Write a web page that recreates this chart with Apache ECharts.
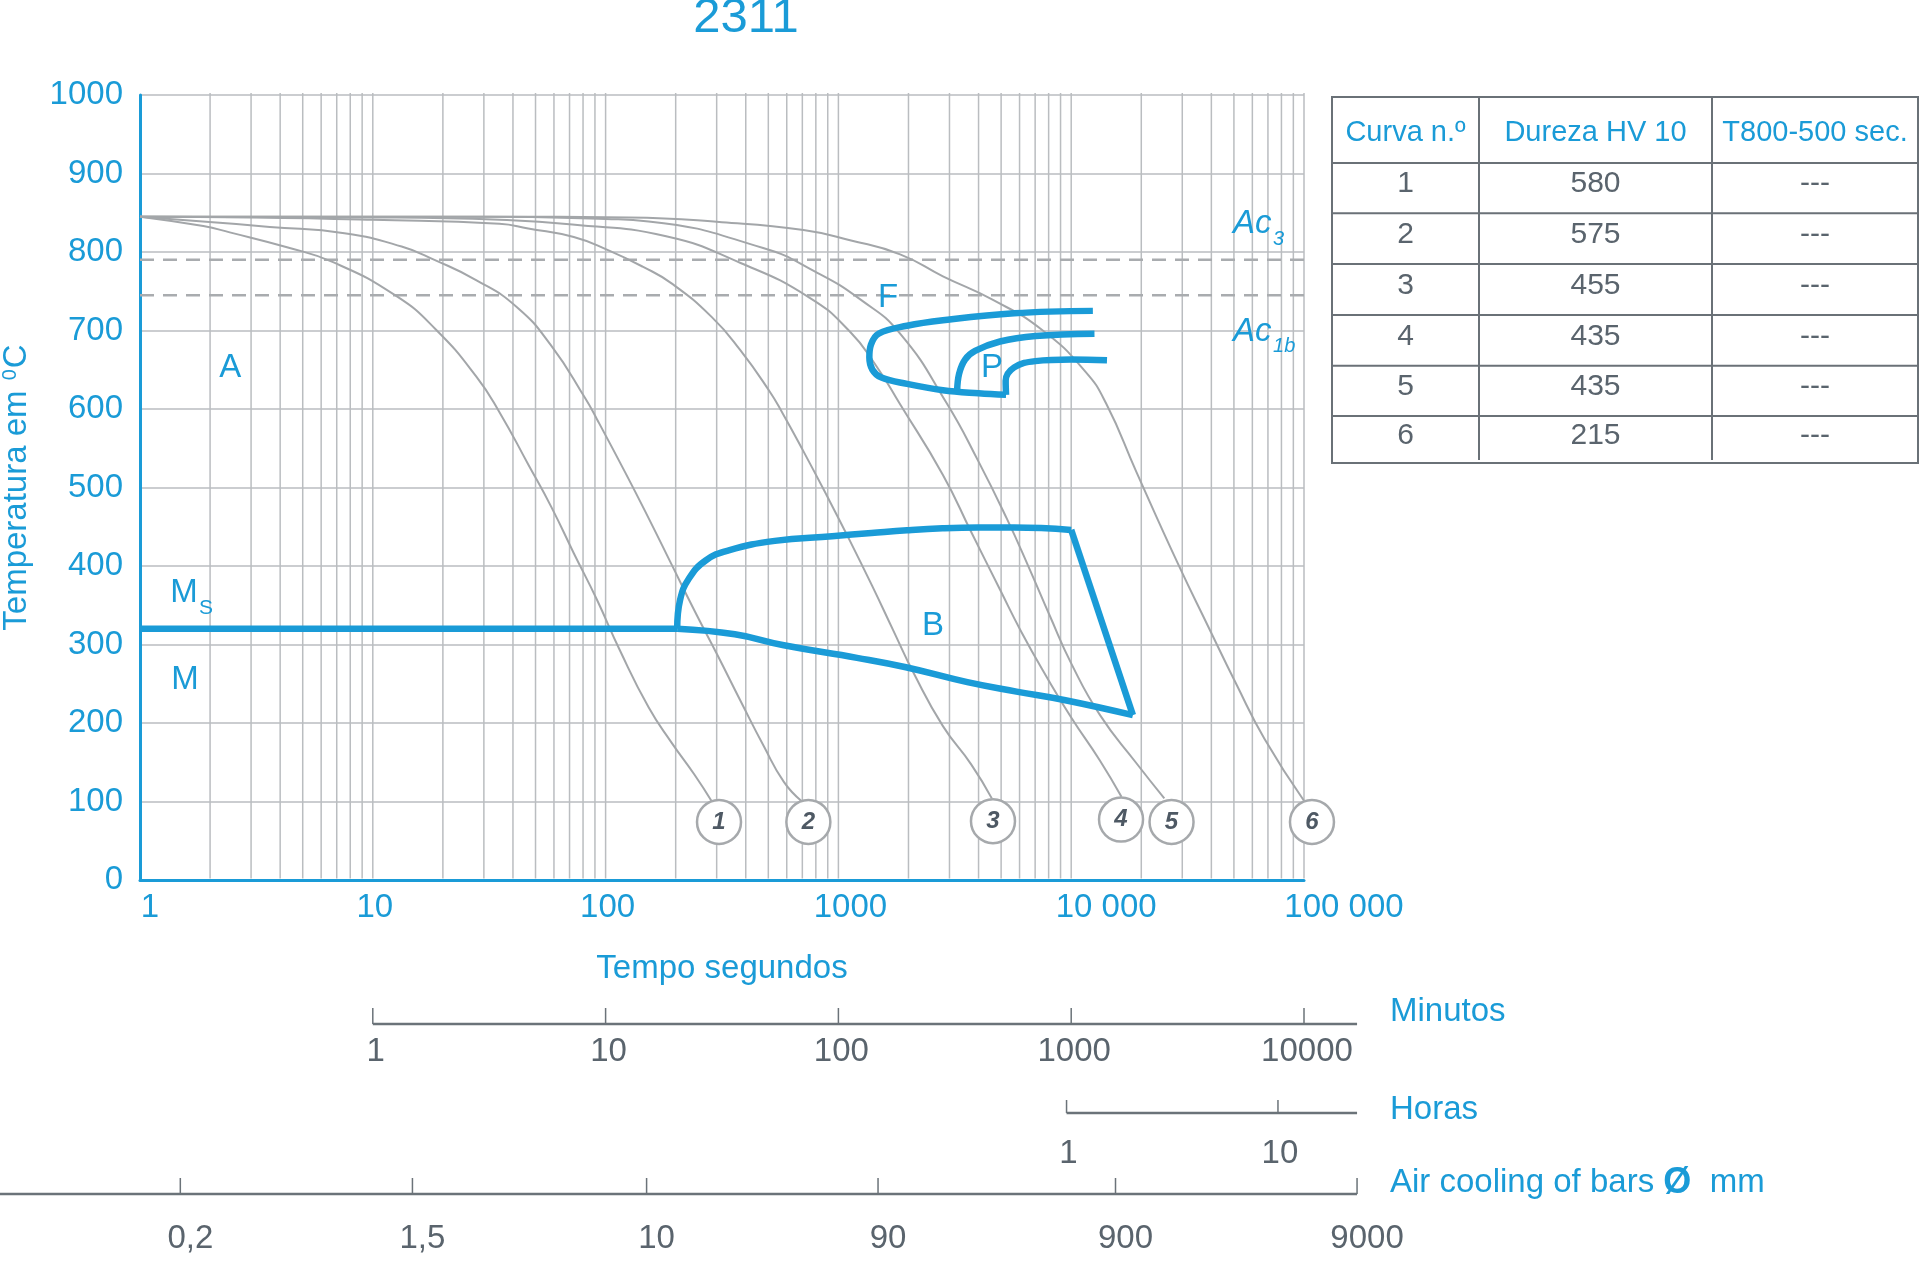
<!DOCTYPE html>
<html>
<head>
<meta charset="utf-8">
<script src="https://cdn.jsdelivr.net/npm/echarts@6/dist/echarts.min.js"></script>
<style>html,body{margin:0;padding:0;background:#fff}#c{width:1920px;height:1262px}</style>
</head>
<body>
<div id="c"></div>
<script>
// ---------------- data ----------------
const titleText = '2311';
const timeTickValues = [1, 10, 100, 1000, 10000, 100000];
const timeTickLabels = ['1', '10', '100', '1000', '10 000', '100 000'];

// cooling curves: [time s, temperature °C]
const curve1 = [[1,845],[1.87,833],[2.43,825],[4.28,806],[6.75,787],[12.6,744],[18.7,701],[27.9,641],[35,596],[46.6,529],[58.5,475],[73.1,416],[91.8,357],[115,293],[153,220],[192,175],[241,134],[286,100]];
const curve2 = [[1,845],[1.86,839],[3.61,832],[7.55,824],[13.3,807],[18.4,790],[27.9,764],[41.5,730],[58.3,681],[82,613],[91.8,587],[122,518],[153,461],[192,402],[241,343],[303,286],[380,228],[479,170],[583,125],[692,101]];
const curve3 = [[1,845],[3.16,844],[10,841],[35,836],[46.5,830],[73,819],[103,802],[145,781],[192,760],[286,717],[379,675],[505,623],[575,595],[708,546],[887,491],[1117,433],[1400,374],[1714,319],[2118,262],[2812,196],[3724,147],[4560,104]];
const curve4 = [[1,845],[10,844],[35,841],[72,835],[182,820],[380,786],[750,742],[1117,699],[1445,656],[1841,606],[2812,516],[3724,443],[4943,370],[6109,316],[7834,259],[10000,207],[13300,152],[16440,106]];
const curve5 = [[1,845],[31.6,845],[100,842],[153,839],[475,805],[794,775],[1250,739],[1841,696],[2911,608],[4000,533],[5297,460],[6561,399],[8110,336],[10000,276],[13300,210],[18920,150],[25120,104]];
const curve6 = [[1,845],[31.6,845],[126,844],[316,838],[708,828],[1122,815],[1841,797],[2812,769],[4613,739],[7551,700],[11480,648],[14130,607],[19050,520],[28840,402],[38900,322],[51290,249],[67610,180],[100000,101]];
const coolingCurves = [curve1, curve2, curve3, curve4, curve5, curve6];

// curve number markers
const curveIds = [1, 2, 3, 4, 5, 6];
const curveMarks = [[307,74],[743,74],[4613,75],[16370,77],[26980,74],[108200,74]];

// transformation lines
const msLine = [[1,320],[203,320]];
const bainiteTop = [[203,320],[209,357],[228,384],[269,407],[338,420],[533,432],[940,438],[1387,442],[1972,445.5],[2800,448],[3981,449],[5689,449],[10000,446]];
const bainiteBottom = [[203,320],[359,313],[583,299],[1202,283],[1950,271],[3581,252],[5821,240],[9441,229],[18410,210]];
const ferriteStart = [[12390,725],[5689,722],[2812,713],[1972,706],[1490,696],[1380,682],[1358,666],[1400,650],[1530,640],[1972,632],[2812,624],[4000,620],[5250,618]];
const pearliteMid = [[3236,623],[3300,645],[3500,663],[3864,674],[4943,686],[7031,693],[12590,696]];
const pearliteLow = [[5250,618],[5230,636],[5690,653],[7015,661],[10000,663],[14250,662]];

// critical temperatures
const ac3 = 790;
const ac1b = 745;

// region labels [time, temperature]
const regionLabels = [
  {text:'A', at:[2.44,652]},
  {text:'F', at:[1633,741]},
  {text:'P', at:[4571,652]},
  {text:'B', at:[2547,324]},
  {text:'M', at:[1.56,255]}
];
const msLabelAt = [1.545,366];
const ac3LabelAt = [49550,836];
const ac1bLabelAt = [49550,698];

// table
const tableHeaders = ['Curva n.º', 'Dureza HV 10', 'T800-500 sec.'];
const hardness = [580, 575, 455, 435, 435, 215];
const t85 = ['---','---','---','---','---','---'];

// secondary scales (positions expressed on the seconds axis)
const minuteLabels = ['1','10','100','1000','10000'];
const minuteAt = [10, 100, 1000, 10000, 100000];
const hourLabels = ['1','10'];
const hourAt = [9550, 77300];
const barLabels = ['0,2','1,5','10','90','900','9000'];
const barAt = [1.49, 14.8, 150, 1480, 15500, 169000];

// ---------------- styles ----------------
const BLUE = '#1a9bd7';
const GRAY = '#a3a6a9';
const GRID = '#babdc0';
const DARK = '#5a646d';
const BORDER = '#6a7177';
const FONT = "'Liberation Sans', Arial, Helvetica, sans-serif";

const chart = echarts.init(document.getElementById('c'), null, {renderer: 'canvas'});

const gridValues = [];
for (let k = 0; k <= 4; k++) for (let m = 1; m <= 9; m++) { const v = m * Math.pow(10, k); if (v > 1) gridValues.push(v); }
gridValues.push(100000);

const labelOffsets = {1:'o10',10:'o2',100:'o2',1000:'o12',10000:'o35',100000:'o40'};
function richOff(n) { return {fontSize:33, color:BLUE, fontFamily:FONT, padding:[0,0,0,2*n]}; }

const series = [];
series.push({
  type:'custom', z:1, silent:true, clip:false,
  encode:{x:0, y:1},
  data: gridValues.map(v => [v, 0]),
  renderItem: (params, api) => {
    const p0 = api.coord([api.value(0), 1000]);
    const p1 = api.coord([api.value(0), 0]);
    return {type:'line', shape:{x1:p0[0], y1:p0[1]-2, x2:p1[0], y2:p1[1]-1.5}, style:{stroke:GRID, lineWidth:1.5}};
  }
});
[ac3, ac1b].forEach(v => series.push({
  type:'line', z:2, silent:true, symbol:'none',
  data:[[1,v],[100000,v]],
  lineStyle:{color:'#a9acaf', width:2.5, type:[14,9]}
}));
coolingCurves.forEach(c => series.push({
  type:'line', z:2, silent:true, symbol:'none', smooth:0.5,
  data:c, lineStyle:{color:GRAY, width:2}
}));
const blueLine = (d, smooth) => ({
  type:'line', z:3, silent:true, symbol:'none', smooth:smooth,
  data:d, lineStyle:{color:BLUE, width:6.5, cap:'butt', join:'round'}
});
series.push(blueLine(msLine, false));
series.push(blueLine(bainiteTop, 0.45));
series.push(blueLine(bainiteBottom, 0.45));
series.push(blueLine([bainiteTop[bainiteTop.length-1], bainiteBottom[bainiteBottom.length-1]], false));
series.push(blueLine(ferriteStart, 0.4));
series.push(blueLine(pearliteMid, 0.4));
series.push(blueLine(pearliteLow, 0.4));
series.push({
  type:'scatter', z:5, silent:true, clip:false,
  symbol:'circle', symbolSize:44,
  data:curveMarks,
  itemStyle:{color:'#ffffff', borderColor:'#a6a9ac', borderWidth:2.5, opacity:1},
  label:{show:true, position:'inside', formatter: p => String(curveIds[p.dataIndex]),
    fontStyle:'italic', fontWeight:'bold', fontSize:24, color:'#4e5964', fontFamily:FONT}
});

const option = {
  animation:false,
  backgroundColor:'#ffffff',
  textStyle:{fontFamily:FONT},
  grid:{left:140, right:616, top:95, bottom:382, containLabel:false, outerBoundsMode:'none'},
  xAxis:{
    type:'log', logBase:10, min:1, max:100000,
    axisLine:{show:true, onZero:false, lineStyle:{color:BLUE, width:3}},
    axisTick:{show:false}, splitLine:{show:false}, minorTick:{show:false},
    axisLabel:{
      show:true, margin:11, hideOverlap:false, showMinLabel:true, showMaxLabel:true,
      alignMinLabel:'center', alignMaxLabel:'center', align:'center',
      formatter: v => {
        const i = timeTickValues.findIndex(t => Math.abs(Math.log10(t) - Math.log10(v)) < 1e-6);
        if (i < 0) return '';
        return '{' + labelOffsets[timeTickValues[i]] + '|' + timeTickLabels[i] + '}';
      },
      rich:{o10:richOff(10), o2:richOff(2), o12:richOff(12), o35:richOff(35), o40:richOff(40)}
    },
    name:'Tempo segundos', nameLocation:'middle', nameGap:72, nameMoveOverlap:false,
    nameTextStyle:{color:BLUE, fontSize:33, fontFamily:FONT}
  },
  yAxis:{
    type:'value', min:0, max:1000, interval:100,
    axisLine:{show:true, onZero:false, lineStyle:{color:BLUE, width:3}},
    axisTick:{show:false},
    splitLine:{show:true, lineStyle:{color:GRID, width:1.5}},
    axisLabel:{color:BLUE, fontSize:33, margin:17, fontFamily:FONT, formatter: v => String(v)},
    name:'{a|Temperatura em }{s|0}{a|C}', nameLocation:'middle', nameGap:107, nameMoveOverlap:false,
    nameTextStyle:{color:BLUE, fontSize:33, fontFamily:FONT,
      rich:{a:{fontSize:33, color:BLUE, fontFamily:FONT, lineHeight:33},
            s:{fontSize:20, color:BLUE, fontFamily:FONT, lineHeight:33, verticalAlign:'top', padding:[0,1,12,1]}}}
  },
  series: series
};
chart.setOption(option);

// ---------------- graphics (title, labels, table, secondary scales) ----------------
const px = (t, T) => chart.convertToPixel({gridIndex:0}, [t, T]);
const xPx = t => chart.convertToPixel({xAxisIndex:0}, t);
const g = [];
const text = (x, y, s, o) => g.push(Object.assign({type:'text', x:x, y:y, silent:true, z:10,
  style:Object.assign({text:s, fill:BLUE, fontSize:33, fontFamily:FONT, align:'center', verticalAlign:'middle'}, o || {})}));
const line = (x1, y1, x2, y2, stroke, w) => g.push({type:'line', silent:true, z:10,
  shape:{x1:x1, y1:y1, x2:x2, y2:y2}, style:{stroke:stroke, lineWidth:w}});

text(746, 18, titleText, {fontSize:49});

regionLabels.forEach(r => { const p = px(r.at[0], r.at[1]); text(p[0], p[1], r.text); });
{
  const p = px(msLabelAt[0], msLabelAt[1]);
  text(p[0], p[1], 'M');
  text(p[0] + 22, p[1] + 16, 'S', {fontSize:21});
}
{
  const p = px(ac3LabelAt[0], ac3LabelAt[1]);
  text(p[0], p[1], 'Ac', {align:'left', fontStyle:'italic'});
  text(p[0] + 40, p[1] + 16, '3', {align:'left', fontStyle:'italic', fontSize:20});
  const q = px(ac1bLabelAt[0], ac1bLabelAt[1]);
  text(q[0], q[1], 'Ac', {align:'left', fontStyle:'italic'});
  text(q[0] + 40, q[1] + 14, '1b', {align:'left', fontStyle:'italic', fontSize:20});
}

// table
const colX = [1332, 1479, 1712, 1918];
const rowY = [97, 163, 213.3, 264, 315, 365.7, 416, 463];
g.push({type:'rect', silent:true, z:10, shape:{x:colX[0], y:rowY[0], width:colX[3]-colX[0], height:rowY[7]-rowY[0]},
  style:{fill:'none', stroke:BORDER, lineWidth:2}});
for (let i = 1; i < 7; i++) line(colX[0], rowY[i], colX[3], rowY[i], BORDER, 2);
for (let j = 1; j < 3; j++) line(colX[j], rowY[0], colX[j], rowY[7] - 3, BORDER, 2);
const colC = [0,1,2].map(j => (colX[j] + colX[j+1]) / 2);
tableHeaders.forEach((h, j) => text(colC[j], 133, h, {fontSize:29}));
hardness.forEach((h, i) => {
  const y = (rowY[i+1] + rowY[i+2]) / 2 - 4;
  text(colC[0], y, String(curveIds[i]), {fontSize:30, fill:DARK});
  text(colC[1], y, String(h), {fontSize:30, fill:DARK});
  text(colC[2], y, t85[i], {fontSize:30, fill:DARK});
});

// secondary scales
const SC = '#6b7379';
const scaleRight = xPx(barAt[barAt.length - 1]);
{
  const xs = minuteAt.map(xPx);
  line(xs[0], 1024, scaleRight, 1024, SC, 2.5);
  xs.forEach((x, i) => { line(x, 1008, x, 1024, SC, 1.5); text(x + 3, 1052, minuteLabels[i], {fill:DARK}); });
  text(1390, 1012, 'Minutos', {align:'left'});
}
{
  const xs = hourAt.map(xPx);
  line(xs[0], 1113, scaleRight, 1113, SC, 2.5);
  xs.forEach((x, i) => { line(x, 1100, x, 1113, SC, 1.5); text(x + 2, 1154, hourLabels[i], {fill:DARK}); });
  text(1390, 1110, 'Horas', {align:'left'});
}
{
  const xs = barAt.map(xPx);
  line(0, 1194, scaleRight, 1194, SC, 2.5);
  xs.forEach((x, i) => { line(x, 1178, x, 1194, SC, 1.5); text(x + 10, 1239, barLabels[i], {fill:DARK}); });
  g.push({type:'text', x:1390, y:1183, silent:true, z:10,
    style:{text:'{a|Air cooling of bars }{b|Ø}{a|  mm}', align:'left', verticalAlign:'middle',
      rich:{a:{fontSize:33, fill:BLUE, fontFamily:FONT}, b:{fontSize:36, fontWeight:'bold', fill:BLUE, fontFamily:FONT}}}});
}

chart.setOption({graphic: g});
</script>
</body>
</html>
